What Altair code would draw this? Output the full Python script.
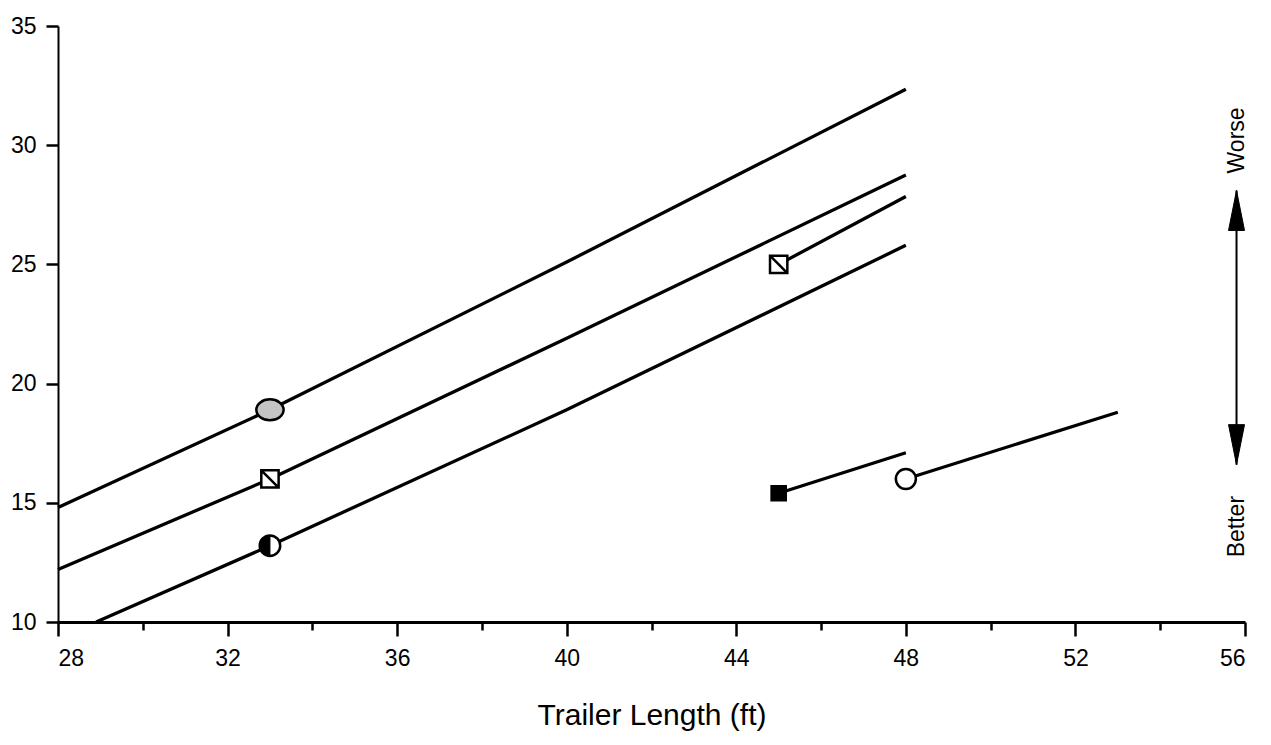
import altair as alt
import pandas as pd

# ---- data ----
# curve lines (series id, x = trailer length ft, y = value)
line_id = ["a", "a", "a", "a",
           "b", "b", "b", "b",
           "c", "c",
           "d", "d", "d", "d",
           "e", "e",
           "f", "f"]
line_x = [28, 33, 40, 48,
          28, 33, 40, 48,
          45, 48,
          28.9, 33, 40, 48,
          45, 48,
          48, 53]
line_y = [14.8, 18.9, 25.1, 32.35,
          12.2, 16.0, 21.9, 28.75,
          25.0, 27.85,
          10.0, 13.2, 18.9, 25.8,
          15.4, 17.1,
          16.0, 18.8]

# markers
marker_x = [33, 33, 33, 45, 45, 48]
marker_y = [18.9, 16.0, 13.2, 25.0, 15.4, 16.0]
marker_style = ["stipple", "square_diag", "half_circle", "square_diag", "filled_square", "open_circle"]

# worse / better annotation
arrow_x = [55.8]
arrow_top = [28.1]
arrow_bottom = [16.6]
label_text = ["Worse", "Better"]
label_y = [30.2, 14.0]

x_major = [28, 32, 36, 40, 44, 48, 52, 56]
x_minor = [30, 34, 38, 42, 46, 50, 54]
y_ticks = [10, 15, 20, 25, 30, 35]

FONT = "Liberation Sans"

lines_df = pd.DataFrame({"id": line_id, "x": line_x, "y": line_y})
markers_df = pd.DataFrame({"x": marker_x, "y": marker_y, "style": marker_style})
arrow_df = pd.DataFrame({"x": arrow_x, "top": arrow_top, "bottom": arrow_bottom})
labels_df = pd.DataFrame({"x": arrow_x * 2, "y": label_y, "t": label_text})

xscale = alt.Scale(domain=[28, 56], nice=False, zero=False)
yscale = alt.Scale(domain=[10, 35], nice=False, zero=False)

x_axis_major = alt.Axis(values=x_major, orient="bottom", tickSize=14, tickWidth=2.5,
                        domainWidth=3, domainColor="black", tickColor="black",
                        labelFont=FONT, labelFontSize=23, labelColor="black",
                        labelPadding=11, title="Trailer Length (ft)",
                        titleFont=FONT, titleFontSize=30, titleFontWeight="normal",
                        titleColor="black", titlePadding=30, grid=False)
x_axis_minor = alt.Axis(values=x_minor, orient="bottom", tickSize=8, tickWidth=2.5,
                        tickColor="black", domain=False, labels=False, title=None,
                        grid=False)
y_axis = alt.Axis(values=y_ticks, orient="left", tickSize=12, tickWidth=2.5,
                  domainWidth=2, domainColor="black", tickColor="black",
                  labelFont=FONT, labelFontSize=23, labelColor="black",
                  labelPadding=10, title=None, grid=False)


def X(field, axis=None):
    return alt.X(field, type="quantitative", scale=xscale, axis=axis)


def Y(field):
    return alt.Y(field, type="quantitative", scale=yscale, axis=y_axis)


lines = alt.Chart(lines_df).mark_line(color="black", strokeWidth=3.3).encode(
    x=X("x", x_axis_major), y=Y("y"), detail="id:N",
)

minor = alt.Chart(lines_df).mark_point(opacity=0).encode(
    x=X("x", x_axis_minor), y=Y("y"),
)


def marker_layer(style, shape, size, fill, stroke="black", sw=2.5):
    return alt.Chart(markers_df).transform_filter(
        alt.datum.style == style
    ).mark_point(shape=shape, size=size, filled=True, fill=fill, stroke=stroke,
                 strokeWidth=sw, opacity=1).encode(x=X("x"), y=Y("y"))


ellipse = "M -1.3 0 A 1.3 1 0 1 0 1.3 0 A 1.3 1 0 1 0 -1.3 0 Z"
sq_diag = "M -1 -1 L 1 -1 L 1 1 L -1 1 Z M -1 -1 L 1 1"
half_left = "M 0 -1 A 1 1 0 0 0 0 1 Z"

m_stipple = marker_layer("stipple", ellipse, 440, "#c4c4c4")
m_sq = marker_layer("square_diag", sq_diag, 300, "white")
m_half_bg = marker_layer("half_circle", "circle", 420, "white")
m_half_fg = marker_layer("half_circle", half_left, 420, "black", sw=1)
m_fsq = marker_layer("filled_square", "square", 200, "black")
m_oc = marker_layer("open_circle", "circle", 400, "white")

rule = alt.Chart(arrow_df).mark_rule(color="black", strokeWidth=2).encode(
    x=X("x"), y=Y("top"), y2="bottom:Q",
)
head_up = alt.Chart(arrow_df).mark_point(
    shape="M 0 0 L 0.4 2 L -0.4 2 Z", size=1600, filled=True, fill="black",
    stroke="black", strokeWidth=1, opacity=1).encode(x=X("x"), y=Y("top"))
head_down = alt.Chart(arrow_df).mark_point(
    shape="M 0 0 L 0.4 -2 L -0.4 -2 Z", size=1600, filled=True, fill="black",
    stroke="black", strokeWidth=1, opacity=1).encode(x=X("x"), y=Y("bottom"))
labels = alt.Chart(labels_df).mark_text(
    angle=270, font=FONT, fontSize=23, color="black", align="center",
    baseline="middle").encode(x=X("x"), y=Y("y"), text="t:N")

chart = alt.layer(
    lines, minor, m_stipple, m_sq, m_half_bg, m_half_fg, m_fsq, m_oc,
    rule, head_up, head_down, labels,
).resolve_axis(x="independent", y="shared").properties(
    width=1187, height=596,
    autosize=alt.AutoSizeParams(type="none"),
    padding={"left": 50, "top": 18, "right": 18, "bottom": 115},
    background="white",
).configure_view(stroke=None)

chart.save("out.html", embed_options={"renderer": "svg", "actions": False})
